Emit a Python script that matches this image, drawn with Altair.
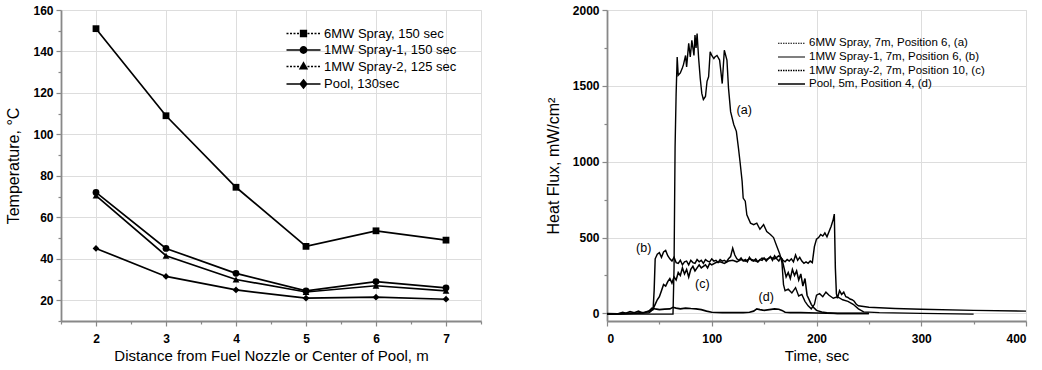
import altair as alt
import pandas as pd

FONT = "Liberation Sans"

# ---------------- Left panel data ----------------
dist_m = [2, 3, 4, 5, 6, 7]
left_series = ["6MW Spray, 150 sec", "1MW Spray-1, 150 sec", "1MW Spray-2, 125 sec", "Pool, 130sec"]
temp_6mw = [151, 109, 74.5, 46, 53.5, 49]
temp_1mw_1 = [72, 45, 33, 24.5, 29, 26]
temp_1mw_2 = [70.5, 41.5, 30, 24, 27, 24.5]
temp_pool = [45, 31.5, 25, 21, 21.5, 20.5]
left_x_ticks = [2, 3, 4, 5, 6, 7]
left_x_minor = [1.5, 2.5, 3.5, 4.5, 5.5, 6.5, 7.5]
left_y_ticks = [20, 40, 60, 80, 100, 120, 140, 160]
left_y_minor = [10, 30, 50, 70, 90, 110, 130, 150]

# ---------------- Right panel data ----------------
right_series = ["6MW Spray, 7m, Position 6, (a)", "1MW Spray-1, 7m, Position 6, (b)",
                "1MW Spray-2, 7m, Position 10, (c)", "Pool, 5m, Position 4, (d)"]

t_a = [0, 20, 40, 55, 63, 64, 65, 66, 67, 68, 70, 72, 73, 75, 76, 78, 79.5, 81, 83, 84,
       85, 86, 87.5, 89, 90.5, 92, 94, 95.5, 97, 98.5, 100, 102, 103, 105, 107.5, 110, 112, 114.5, 116, 118,
       121, 123.5, 125.5, 127, 129, 130, 132, 133.5, 137, 140, 143, 146, 149.5, 152.5, 156, 159, 162, 165, 167, 168.5,
       170, 173, 176.5, 180, 183, 186, 189, 192, 195, 198, 200, 203, 206, 209, 212, 216, 220, 225, 230, 235,
       240, 245, 260, 300, 350]
v_a = [-5, -5, -5, -5, -5, 300, 1100, 1450, 1690, 1570, 1585, 1620, 1640, 1700, 1625, 1780, 1690, 1800, 1700, 1835,
       1750, 1845, 1680, 1550, 1450, 1410, 1430, 1530, 1560, 1725, 1700, 1680, 1690, 1700, 1670, 1515, 1735, 1670, 1485, 1330,
       1245, 1200, 1090, 1000, 870, 760, 740, 650, 595, 585, 595, 555, 585, 540, 520, 500, 445, 390, 335, 190,
       150, 160, 135, 170, 115, 125, 80, 50, 30, 60, 120, 130, 110, 140, 120, 100, 110, 90, 80, 60,
       30, 10, 5, 0, -5]

t_b = [0, 10, 15, 18, 22, 26, 30, 34, 38, 42, 44, 45, 46, 48, 50,
       52, 54, 56, 58, 60, 62, 64, 66, 68, 70,
       72, 74, 76, 78, 80, 82, 84, 86, 88, 90,
       92, 94, 96, 98, 100, 102, 104, 106, 108, 110,
       112, 114, 116, 118, 120, 122, 124, 126, 128, 130,
       132, 134, 136, 138, 140, 142, 144, 146, 148, 150,
       152, 154, 156, 158, 160, 162, 164, 166, 168, 170,
       172, 174, 176, 178, 180, 182, 184, 186, 188, 190,
       192, 194, 196, 198, 200, 202, 204, 206, 208, 210,
       212, 214, 216, 217, 218, 219, 220,
       222, 224, 226, 228, 230, 232, 234, 236, 238, 240,
       250, 275, 300, 350, 400]
v_b = [-5, -3, 8, 2, 12, 5, 15, 3, 10, 20, 25, 150, 360, 390, 400,
       370, 405, 415, 380, 360, 345, 370, 335, 330, 350,
       320, 340, 345, 320, 350, 335, 330, 355, 340, 350,
       330, 355, 345, 340, 360, 345, 350, 335, 355, 345,
       350, 340, 360, 375, 430, 385, 360, 350, 365, 345,
       355, 340, 370, 350, 345, 360, 340, 355, 350, 365,
       345, 360, 375, 350, 380, 360, 345, 370, 350, 340,
       355, 345, 360, 340, 385, 350, 370, 345, 330, 340,
       330, 345, 335, 440, 490, 500, 520, 510, 530, 505,
       540, 575, 620, 655, 300, 130, 100,
       150, 125, 140, 110, 105, 95, 90, 80, 60, 50,
       40, 32, 27, 20, 15]

t_c = [0, 10, 20, 30, 40,
       42, 44, 46, 48, 50, 52, 54, 56, 58, 60,
       62, 64, 66, 68, 70, 72, 74, 76, 78, 80,
       82, 84, 86, 88, 90, 92, 94, 96, 98, 100,
       104, 108, 112, 116, 120, 124, 128, 132, 136, 140, 144, 148, 152, 156, 160, 164,
       167, 169, 171, 173, 175, 177, 179, 181, 183, 185, 187, 189, 191, 193, 195, 197,
       200, 205, 210, 220, 235, 250]
v_c = [0, -3, 0, 2, 5,
       15, 30, 60, 90, 110, 150, 190, 180, 210, 230,
       200, 240, 220, 270, 250, 300, 260, 290, 240, 290,
       310, 280, 300, 320, 300, 310, 320, 300, 330, 320,
       335, 340, 330, 345, 350, 340, 355, 345, 360, 350, 340, 365, 355, 370, 360, 380,
       360, 300, 240, 270, 230, 290, 250, 280, 220, 260, 180, 230, 120, 90, 60, 40,
       20, 10, 5, 0, 0, 0]

t_d = [0, 10, 20, 30, 36, 40, 43, 46, 50, 55,
       60, 63, 66, 70, 75, 80, 85, 90, 95, 100,
       110, 120, 130, 136, 140, 143, 146, 150, 155, 160,
       164, 167, 170, 175, 185, 200, 220, 250]
v_d = [-5, -3, 0, 3, 8, 15, 35, 30, 25, 28,
       30, 40, 35, 30, 35, 32, 30, 25, 15, 8,
       5, 5, 5, 8, 15, 30, 25, 20, 25, 30,
       28, 20, 8, 5, 5, 3, 0, 0]

ann_text = ["(a)", "(b)", "(c)", "(d)"]
ann_t = [131, 35, 91, 152]
ann_v = [1340, 430, 195, 110]

right_x_ticks = [0, 100, 200, 300, 400]
right_x_minor = [50, 150, 250, 350]
right_y_ticks = [0, 500, 1000, 1500, 2000]
right_y_minor = [250, 750, 1250, 1750]

# ---------------- Tables ----------------
left_rows = []
for name, vals in zip(left_series, [temp_6mw, temp_1mw_1, temp_1mw_2, temp_pool]):
    for d, v in zip(dist_m, vals):
        left_rows.append({"series": name, "d": d, "temp": v})
df_left = pd.DataFrame(left_rows)

right_rows = []
for name, ts, vs in zip(right_series, [t_a, t_b, t_c, t_d], [v_a, v_b, v_c, v_d]):
    assert len(ts) == len(vs), name
    for t, v in zip(ts, vs):
        right_rows.append({"series": name, "t": t, "flux": v})
df_right = pd.DataFrame(right_rows)
df_ann = pd.DataFrame({"label": ann_text, "t": ann_t, "flux": ann_v})


def dotted(x0, x1, seg=0.4, gap=0.3):
    parts = []
    x = x0
    while x < x1 - 1e-9:
        e = min(x + seg, x1)
        parts.append(f"M{x:.2f},0L{e:.2f},0")
        x = e + gap
    return "".join(parts)


def nested(fn, r0, steps=4):
    return "".join(fn(r0 * (steps - i) / steps) for i in range(steps))


def sq(r):
    return f"M{-r:.2f},{-r:.2f}h{2*r:.2f}v{2*r:.2f}h{-2*r:.2f}Z"


def circ(r):
    return f"M{r:.2f},0A{r:.2f},{r:.2f},0,1,1,{-r:.2f},0A{r:.2f},{r:.2f},0,1,1,{r:.2f},0Z"


def tri(r):
    return f"M0,{-1.2*r:.2f}L{1.1*r:.2f},{0.75*r:.2f}L{-1.1*r:.2f},{0.75*r:.2f}Z"


def dia(r):
    return f"M0,{-1.3*r:.2f}L{1.05*r:.2f},0L0,{1.3*r:.2f}L{-1.05*r:.2f},0Z"


solid = "M-3.4,0L3.4,0"
legend_paths = [dotted(-3.4, 3.4) + nested(sq, 0.6), solid + nested(circ, 0.65),
                dotted(-3.4, 3.4) + nested(tri, 0.65), solid + nested(dia, 0.65)]

major_axis = dict(tickSize=5, tickWidth=1.2, domainWidth=1.8, labelFontWeight="bold",
                  labelFontSize=12, titleFontSize=15, titleFontWeight="normal")
minor_axis = dict(labels=False, tickSize=3, tickWidth=1.2, domain=False, grid=False, title=None)

# ---------------- Left chart ----------------
lx = alt.Scale(domain=[1.5, 7.5], nice=False, zero=False)
ly = alt.Scale(domain=[10, 160], nice=False, zero=False)
base_l = alt.Chart(df_left)

lines_l = base_l.mark_line(color="black", strokeWidth=1.7).encode(
    x=alt.X("d:Q", scale=lx, axis=alt.Axis(values=left_x_ticks, format="d",
            title="Distance from Fuel Nozzle or Center of Pool, m", labelPadding=7, titlePadding=4, **major_axis)),
    y=alt.Y("temp:Q", scale=ly, axis=alt.Axis(values=left_y_ticks, title="Temperature, °C",
            labelPadding=3, titlePadding=11, **{**major_axis, "titleFontSize": 16})),
    detail="series:N",
)
points_l = base_l.mark_point(filled=True, color="black", opacity=1, size=46).encode(
    x=alt.X("d:Q", scale=lx, axis=None),
    y=alt.Y("temp:Q", scale=ly, axis=None),
    shape=alt.Shape("series:N", scale=alt.Scale(domain=left_series,
                    range=["square", "circle", "triangle-up", "diamond"]), legend=None),
)
legend_l = base_l.mark_point(filled=False, color="black", opacity=0).encode(
    x=alt.X("d:Q", scale=lx, axis=alt.Axis(values=left_x_minor, orient="bottom", **minor_axis)),
    y=alt.Y("temp:Q", scale=ly, axis=alt.Axis(values=left_y_minor, orient="left", **minor_axis)),
    shape=alt.Shape("series:N", scale=alt.Scale(domain=left_series, range=legend_paths),
                    legend=alt.Legend(orient="none", legendX=236, legendY=17, title=None,
                                      symbolSize=100, symbolFillColor="black", symbolStrokeColor="black",
                                      symbolStrokeWidth=1.3, symbolOpacity=1, labelFontSize=13,
                                      labelOffset=14, rowPadding=2.5, labelFont=FONT, labelLimit=300)),
)
left = alt.layer(lines_l, points_l, legend_l).resolve_scale(shape="independent").resolve_axis(
    x="independent", y="independent").properties(width=420, height=311)

# ---------------- Right chart ----------------
rx = alt.Scale(domain=[0, 400], nice=False, zero=False)
ry = alt.Scale(domain=[-50, 2000], nice=False, zero=False)
base_r = alt.Chart(df_right)
width_range = [1.4, 1.6, 1.3, 2.3]

leg_r = dict(orient="none", legendX=178.5, legendY=27.5, title=None,
             symbolType="M-2.7,0L2.7,0", symbolSize=100, symbolOpacity=1,
             symbolStrokeColor="black", labelFontSize=11.5,
             labelOffset=11.5, rowPadding=1.5, labelFont=FONT, labelLimit=300)
lines_r = base_r.mark_line(color="black").encode(
    x=alt.X("t:Q", scale=rx, axis=alt.Axis(values=right_x_ticks, format="d", title="Time, sec",
            labelPadding=7, titlePadding=4, **major_axis)),
    y=alt.Y("flux:Q", scale=ry, axis=alt.Axis(values=right_y_ticks, format="d", title="Heat Flux, mW/cm²",
            labelPadding=3, titlePadding=11, **{**major_axis, "titleFontSize": 16})),
    strokeWidth=alt.StrokeWidth("series:N", scale=alt.Scale(domain=right_series, range=width_range),
                                legend=None),
    detail="series:N",
)
legend_r = base_r.mark_line(color="black", opacity=0).encode(
    x=alt.X("t:Q", scale=rx, axis=alt.Axis(values=right_x_minor, orient="bottom", **minor_axis)),
    y=alt.Y("flux:Q", scale=ry, axis=alt.Axis(values=right_y_minor, orient="left", **minor_axis)),
    strokeDash=alt.StrokeDash("series2:N", scale=alt.Scale(domain=right_series,
                              range=[[1.5, 1], [1, 0], [1.5, 1], [1, 0]]), legend=alt.Legend(**leg_r)),
    strokeWidth=alt.StrokeWidth("series2:N", scale=alt.Scale(domain=right_series, range=[1, 1.5, 1, 2.2]),
                                legend=alt.Legend(**leg_r)),
    detail="series:N",
).transform_calculate(series2="datum.series")
text_r = alt.Chart(df_ann).mark_text(fontSize=12.5, font=FONT, color="black").encode(
    x=alt.X("t:Q", scale=rx, axis=None),
    y=alt.Y("flux:Q", scale=ry, axis=None),
    text="label:N",
)
right = alt.layer(lines_r, legend_r, text_r).resolve_scale(
    strokeWidth="independent", strokeDash="independent").resolve_axis(
    x="independent", y="independent").properties(width=419, height=311)

chart = alt.hconcat(left, right, spacing=61).resolve_legend(
    shape="independent", strokeDash="independent", strokeWidth="independent"
).resolve_scale(shape="independent", strokeDash="independent", strokeWidth="independent").properties(
    padding={"left": 5, "top": 3, "right": 0, "bottom": 0}
).configure_axis(
    labelFont=FONT, titleFont=FONT, labelColor="black", titleColor="black",
    domainColor="black", tickColor="black", grid=False,
).configure_view(stroke="black", strokeWidth=1.8).configure_legend(
    padding=0, labelColor="black"
).configure(background="white")

chart.save("out.html", embed_options={"renderer": "svg", "actions": False})
